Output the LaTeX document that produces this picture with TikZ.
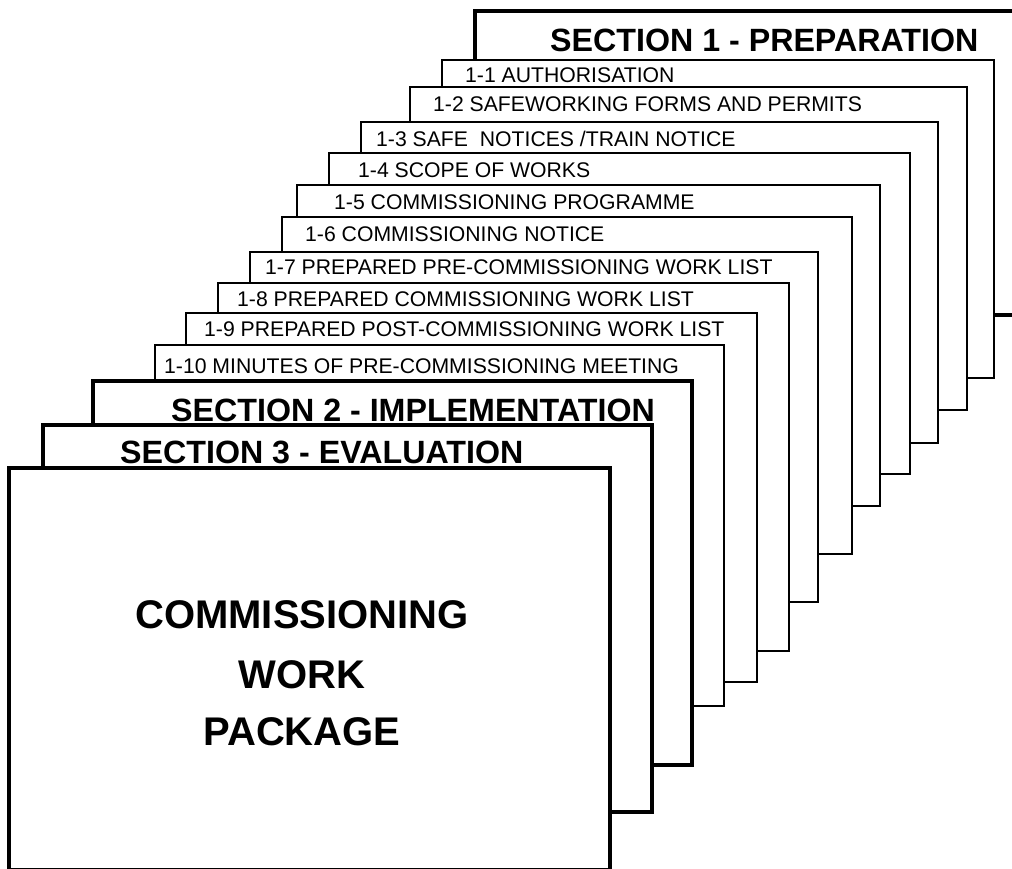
\documentclass[tikz,border=0pt]{standalone}
\usepackage{fontspec}
\setmainfont{Liberation Sans}
\begin{document}
\begin{tikzpicture}[x=1pt,y=-1pt,
  thincard/.style={draw=black,fill=white,line width=2pt},
  thickcard/.style={draw=black,fill=white,line width=4.5pt},
  item/.style={anchor=base west,inner sep=0pt,font=\fontsize{21.2}{24}\selectfont},
  sect/.style={anchor=base west,inner sep=0pt,font=\fontsize{32.2}{36}\selectfont\bfseries},
  big/.style={anchor=base,inner sep=0pt,font=\fontsize{40}{46}\selectfont\bfseries}]
\useasboundingbox (0,0) rectangle (1012,869);
\clip (0,0) rectangle (1012,869);
% Section 1
\draw[thickcard] (475,11) rectangle (1040,315);
\node[sect] (s1) at (550,52) {SECTION 1 - PREPARATION};
% items
\draw[thincard] (442,60) rectangle (994,378);
\node[item] (i1) at (465,83) {1-1 AUTHORISATION};
\draw[thincard] (410,87) rectangle (967,410);
\node[item] (i2) at (433,112) {1-2 SAFEWORKING FORMS AND PERMITS};
\draw[thincard] (361,122) rectangle (938,443);
\node[item] (i3) at (376,147) {1-3 SAFE\ \ NOTICES /TRAIN NOTICE};
\draw[thincard] (329,153) rectangle (910,474);
\node[item] (i4) at (358,178) {1-4 SCOPE OF WORKS};
\draw[thincard] (297,185) rectangle (880,506);
\node[item] (i5) at (334,210) {1-5 COMMISSIONING PROGRAMME};
\draw[thincard] (282,217) rectangle (852,554);
\node[item] (i6) at (305,241) {1-6 COMMISSIONING NOTICE};
\draw[thincard] (250,252) rectangle (818,602);
\node[item] (i7) at (265,274) {1-7 PREPARED PRE-COMMISSIONING WORK LIST};
\draw[thincard] (218,283) rectangle (789,651);
\node[item] (i8) at (237,306) {1-8 PREPARED COMMISSIONING WORK LIST};
\draw[thincard] (186,313) rectangle (757,682);
\node[item] (i9) at (204,336) {1-9 PREPARED POST-COMMISSIONING WORK LIST};
\draw[thincard] (155,345) rectangle (724,706);
\node[item] (i10) at (164,373) {1-10 MINUTES OF PRE-COMMISSIONING MEETING};
% Section 2
\draw[thickcard] (93,381) rectangle (692,765);
\node[sect] (s2) at (171,421) {SECTION 2 - IMPLEMENTATION};
% Section 3
\draw[thickcard] (43,425) rectangle (652,812);
\node[sect] (s3) at (120,463) {SECTION 3 - EVALUATION};
% Main
\draw[thickcard] (9,468) rectangle (610,870.5);
\node[big] (m1) at (302,628) {COMMISSIONING};
\node[big] (m2) at (302,688) {WORK};
\node[big] (m3) at (302,745) {PACKAGE};
\end{tikzpicture}
\end{document}
